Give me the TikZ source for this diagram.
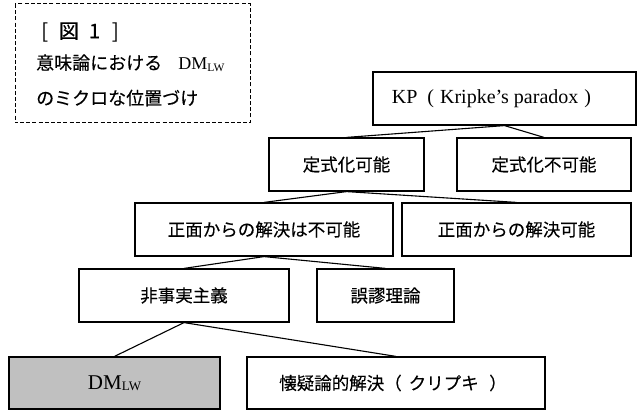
\documentclass[tikz,border=0pt]{standalone}
\usepackage{fontspec}
\setmainfont{Liberation Serif}
\newfontfamily\jp[FakeBold=0.25]{Noto Sans CJK JP}
\begin{document}
\begin{tikzpicture}[x=1pt,y=-1pt,
  box/.style={draw=black,line width=1.2pt,rectangle,inner sep=0pt,anchor=center,
     font=\jp\fontsize{17.5}{20}\selectfont},
  link/.style={draw=black,line width=1.1pt},
  ttl/.style={anchor=west,inner sep=0pt,font=\jp\fontsize{18}{20}\selectfont}]
\useasboundingbox (0,0) rectangle (640,411);
\fill[white] (0,0) rectangle (640,411);
% title box
\draw[line width=1pt,dash pattern=on 4pt off 2.2pt] (15,4) rectangle (250,123);
\node[ttl,font=\jp\fontsize{20}{22}\selectfont] (t1) at (41,32) {[\hspace{0.55em}図\hspace{0.5em}1\hspace{0.6em}]};
\node[ttl] (t2) at (36,63) {意味論における\hspace{0.9em}{\rmfamily\fontsize{18}{18}\selectfont DM{\fontsize{11.5}{11}\selectfont\raisebox{-2pt}{LW}}}};
\node[ttl] (t3) at (36,98) {のミクロな位置づけ};
% boxes
\node[box,minimum width=263pt,minimum height=53pt] (kp) at (504.5,98.5)
  {\rmfamily\fontsize{20}{22}\selectfont KP\hspace{0.5em}(\hspace{0.3em}Kripke’s paradox\hspace{0.3em})\kern26pt};
\node[box,minimum width=155pt,minimum height=53pt] (f1) at (346.5,164.5) {定式化可能};
\node[box,minimum width=174pt,minimum height=53pt] (f2) at (544,164.5) {定式化不可能};
\node[box,minimum width=258pt,minimum height=53pt] (s1) at (264,229.5) {正面からの解決は不可能};
\node[box,minimum width=229pt,minimum height=53pt] (s2) at (516.5,229.5) {正面からの解決可能};
\node[box,minimum width=210pt,minimum height=53pt] (n1) at (184,295.5) {非事実主義};
\node[box,minimum width=137pt,minimum height=53pt] (n2) at (385.5,295.5) {誤謬理論};
\node[box,fill={rgb,255:red,192;green,192;blue,192},minimum width=211pt,minimum height=52pt] (dm) at (114.5,383)
  {\rmfamily\fontsize{21}{22}\selectfont DM{\fontsize{13}{12}\selectfont\raisebox{-1pt}{LW}}};
\node[box,minimum width=298pt,minimum height=52pt] (sk) at (396,383) {懐疑論的解決（\hspace{0.4em}クリプキ\hspace{0.6em}）\kern6pt};
% connectors
\draw[link] (kp.south) -- (f1.north);
\draw[link] (kp.south) -- (f2.north);
\draw[link] (f1.south) -- (s1.north);
\draw[link] (f1.south) -- (s2.north);
\draw[link] (s1.south) -- (n1.north);
\draw[link] (s1.south) -- (n2.north);
\draw[link] (n1.south) -- (dm.north);
\draw[link] (n1.south) -- (sk.north);
\end{tikzpicture}
\end{document}
